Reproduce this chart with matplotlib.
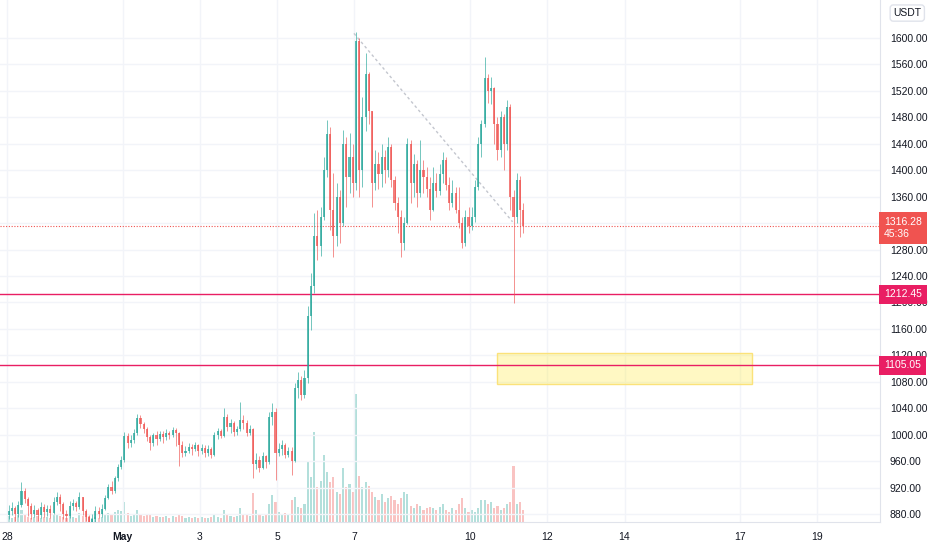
import numpy as np
import matplotlib.pyplot as plt
from matplotlib.patches import Rectangle

plt.rcParams['font.family'] = ['Liberation Sans', 'DejaVu Sans']

# 2h candles from Apr 28 00:00 (x axis in days since Apr 28)
bar_hours = 2
first_open = 878

closes = [
    884, 889, 880, 893, 915, 903, 892, 880, 886, 878, 890, 883,            # Apr 28
    888, 882, 898, 906, 895, 880, 877, 892, 897, 890, 905, 884,            # Apr 29
    876, 868, 872, 885, 880, 888, 904, 921, 915, 934, 951, 962,            # Apr 30
    998, 988, 992, 1003, 1025, 1016, 1008, 996, 987, 999, 994, 1001,       # May 1
    996, 1003, 1000, 1007, 1002, 985, 972, 976, 982, 978, 984, 975,        # May 2
    980, 972, 978, 970, 1000, 1005, 998, 1026, 1012, 1018, 1004, 1009,     # May 3
    1022, 1018, 1003, 1008, 955, 962, 950, 967, 958, 1026, 1035, 972,      # May 4
    978, 985, 970, 976, 960, 1070, 1082, 1060, 1085, 1180, 1225, 1300,     # May 5
    1285, 1330, 1400, 1455, 1340, 1300, 1360, 1320, 1440, 1390, 1420, 1380,  # May 6
    1595, 1400, 1480, 1545, 1490, 1380, 1410, 1395, 1420, 1400, 1435, 1385,  # May 7
    1350, 1330, 1290, 1320, 1440, 1380, 1410, 1365, 1400, 1390, 1372, 1340,  # May 8
    1380, 1368, 1395, 1415, 1378, 1350, 1365, 1340, 1320, 1290, 1330, 1315,  # May 9
    1330, 1375, 1440, 1470, 1540, 1520, 1525, 1470, 1430, 1480, 1440, 1495,  # May 10
    1360, 1330, 1385, 1340, 1316.28,                                         # May 11
]
highs = [
    893, 898, 892, 900, 929, 920, 906, 896, 893, 889, 898, 895,
    894, 893, 905, 913, 910, 898, 886, 899, 903, 900, 914, 906,
    888, 879, 880, 892, 890, 895, 908, 926, 930, 938, 955, 968,
    1004, 1003, 1000, 1008, 1031, 1029, 1019, 1012, 1000, 1003, 1005, 1006,
    1006, 1008, 1005, 1012, 1010, 1004, 990, 983, 987, 986, 989, 986,
    986, 985, 984, 981, 1004, 1010, 1008, 1040, 1032, 1023, 1021, 1013,
    1049, 1030, 1022, 1014, 1010, 972, 968, 974, 970, 1034, 1048, 1040,
    987, 992, 988, 982, 982, 1078, 1095, 1088, 1098, 1195, 1245, 1335,
    1340, 1345, 1420, 1476, 1465, 1396, 1380, 1370, 1461, 1450, 1456, 1440,
    1609, 1600, 1511, 1577, 1548, 1490, 1431, 1428, 1440, 1430, 1450, 1440,
    1392, 1360, 1340, 1330, 1449, 1446, 1425, 1415, 1446, 1415, 1405, 1390,
    1405, 1396, 1410, 1428, 1420, 1390, 1385, 1375, 1375, 1330, 1340, 1344,
    1344, 1385, 1450, 1476, 1571, 1545, 1541, 1526, 1480, 1490, 1485, 1506,
    1500, 1370, 1396, 1392, 1350,
]
lows = [
    872, 878, 870, 876, 890, 896, 877, 872, 875, 869, 874, 876,
    877, 874, 880, 893, 884, 872, 870, 874, 886, 884, 888, 878,
    870, 862, 864, 868, 874, 876, 886, 902, 910, 912, 930, 948,
    958, 980, 982, 988, 1000, 1010, 1002, 990, 977, 983, 985, 990,
    988, 992, 993, 996, 983, 952, 966, 968, 972, 970, 975, 968,
    971, 966, 968, 964, 968, 994, 995, 997, 1006, 1003, 998, 999,
    1005, 1008, 998, 1000, 934, 948, 944, 948, 950, 955, 1015, 931,
    967, 970, 964, 966, 939, 958, 1055, 1052, 1056, 1078, 1158, 1215,
    1264, 1270, 1325, 1390, 1310, 1269, 1285, 1290, 1315, 1344, 1365, 1360,
    1370, 1360, 1375, 1460, 1470, 1344, 1370, 1372, 1375, 1380, 1390, 1375,
    1340, 1305, 1269, 1280, 1318, 1350, 1360, 1344, 1360, 1365, 1360, 1325,
    1338, 1360, 1362, 1380, 1370, 1340, 1345, 1335, 1312, 1282, 1285, 1305,
    1310, 1322, 1370, 1420, 1465, 1502, 1500, 1440, 1415, 1420, 1400, 1430,
    1340, 1199, 1320, 1299, 1305,
]
volumes = [
    6, 4, 5, 7, 12, 8, 5, 4, 5, 6, 4, 5,
    5, 4, 7, 8, 6, 5, 4, 6, 5, 4, 9, 6,
    5, 6, 4, 5, 4, 5, 7, 9, 8, 10, 12, 11,
    20, 9, 6, 7, 12, 8, 6, 7, 8, 5, 6, 5,
    5, 6, 4, 6, 5, 8, 6, 4, 5, 4, 5, 4,
    5, 4, 4, 5, 7, 5, 4, 12, 8, 6, 5, 6,
    14, 8, 7, 6, 29, 12, 8, 6, 7, 18, 27, 20,
    10, 8, 9, 7, 22, 25, 15, 14, 18, 61, 45, 91,
    35, 41, 68, 50, 40, 45, 30, 28, 54, 35, 38, 30,
    129, 46, 35, 40, 36, 30, 25, 22, 28, 20, 24, 26,
    22, 18, 24, 30, 28, 16, 14, 18, 16, 12, 14, 15,
    14, 12, 15, 18, 12, 10, 14, 12, 18, 24, 14, 10,
    12, 10, 14, 22, 22, 18, 20, 14, 16, 12, 14, 18,
    20, 56, 18, 20, 12,
]

day_ticks = [0, 3, 5, 7, 9, 12, 14, 16, 19, 21]
day_labels = ['28', 'May', '3', '5', '7', '10', '12', '14', '17', '19']
price_ticks = [880, 920, 960, 1000, 1040, 1080, 1120, 1160, 1200, 1240,
               1280, 1320, 1360, 1400, 1440, 1480, 1520, 1560, 1600]
hidden_ticks = [1320]   # sits under the last price box

last_price = 1316.28
countdown = '45:36'
levels = [1212.45, 1105.05]
zone_days = (12.69, 19.3)
zone_prices = (1076.5, 1123.4)
trend_days = (8.99, 13.1)
trend_prices = (1607, 1322)

up_col = '#26a69a'
down_col = '#ef5350'
level_col = '#e91e63'

closes = np.array(closes, dtype=float)
highs = np.array(highs, dtype=float)
lows = np.array(lows, dtype=float)
opens = np.concatenate([[first_open], closes[:-1]])
x = np.arange(len(closes)) * bar_hours / 24 + bar_hours / 48
colors = np.where(closes >= opens, up_col, down_col)

fig = plt.figure(figsize=(9.32, 5.5), dpi=100)
rect = [0, 28 / 550, 880 / 932, 522 / 550]

# volume underneath
axv = fig.add_axes(rect, zorder=0)
axv.bar(x, volumes, width=0.055, color=colors, alpha=0.35, linewidth=0)
axv.set_ylim(0, max(volumes) * 522 / 128)
axv.axis('off')

ax = fig.add_axes(rect, zorder=1, sharex=axv)
ax.set_facecolor('none')

ax.vlines(x, np.minimum(lows, np.minimum(opens, closes)),
          np.maximum(highs, np.maximum(opens, closes)),
          colors=colors, linewidth=0.6, alpha=0.75, zorder=3)
ax.bar(x, np.maximum(np.abs(closes - opens), 1.2), bottom=np.minimum(opens, closes),
       width=0.055, color=colors, alpha=0.75, linewidth=0, zorder=4)

ax.set_xlim(-0.181, 22.62)
ax.set_ylim(867.9, 1657.5)

ax.set_xticks(day_ticks)
ax.set_xticklabels(day_labels)
for lbl in ax.get_xticklabels():
    if lbl.get_text() == 'May':
        lbl.set_fontweight('bold')
ax.set_yticks(price_ticks)
ax.set_yticklabels(['' if p in hidden_ticks else f'{p:.2f}' for p in price_ticks])
ax.yaxis.tick_right()
ax.tick_params(axis='both', length=0, labelsize=7.5, colors='#131722')
ax.tick_params(axis='y', pad=7)
ax.tick_params(axis='x', pad=7)
ax.grid(True, color='#f2f4f9', linewidth=1, zorder=0)

for side in ['top', 'left']:
    ax.spines[side].set_visible(False)
for side in ['right', 'bottom']:
    ax.spines[side].set_color('#e0e3eb')

# zone and trend line
ax.add_patch(Rectangle((zone_days[0], zone_prices[0]), zone_days[1] - zone_days[0],
                       zone_prices[1] - zone_prices[0], facecolor='#ffeb3b', alpha=0.3,
                       edgecolor='none', zorder=2))
ax.add_patch(Rectangle((zone_days[0], zone_prices[0]), zone_days[1] - zone_days[0],
                       zone_prices[1] - zone_prices[0], facecolor='none',
                       edgecolor='#fbe27a', linewidth=1, zorder=2))
ax.plot(trend_days, trend_prices, color='#c3c6ce', linewidth=1, dashes=(2, 2), zorder=2)

# horizontal levels
for lv in levels:
    ax.axhline(lv, color=level_col, linewidth=1, zorder=2)
ax.axhline(last_price, color=down_col, linewidth=0.8, linestyle=(0, (1, 1.5)), zorder=2)

# price scale labels
ytr = ax.get_yaxis_transform()
for lv in levels:
    ax.annotate(f'{lv:.2f}', xy=(1, lv), xycoords=ytr, xytext=(3, 0),
                textcoords='offset points', ha='left', va='center', color='white',
                fontsize=7.5, annotation_clip=False, zorder=10,
                bbox=dict(boxstyle='square,pad=0.45', fc=level_col, ec='none'))
ax.annotate(f'{last_price:.2f}\n{countdown}', xy=(1, last_price), xycoords=ytr,
            xytext=(3, 6.2), textcoords='offset points', ha='left', va='top',
            color='white', fontsize=7.5, linespacing=1.25, annotation_clip=False, zorder=10,
            bbox=dict(boxstyle='square,pad=0.45', fc='#f05350', ec='none'))
ax.text(1.031, 0.975, 'USDT', transform=ax.transAxes, ha='center', va='center',
        fontsize=7.5, color='#131722',
        bbox=dict(boxstyle='round,pad=0.3', fc='white', ec='#e0e3eb'))

fig.savefig('out.png', dpi=100, facecolor='white')
